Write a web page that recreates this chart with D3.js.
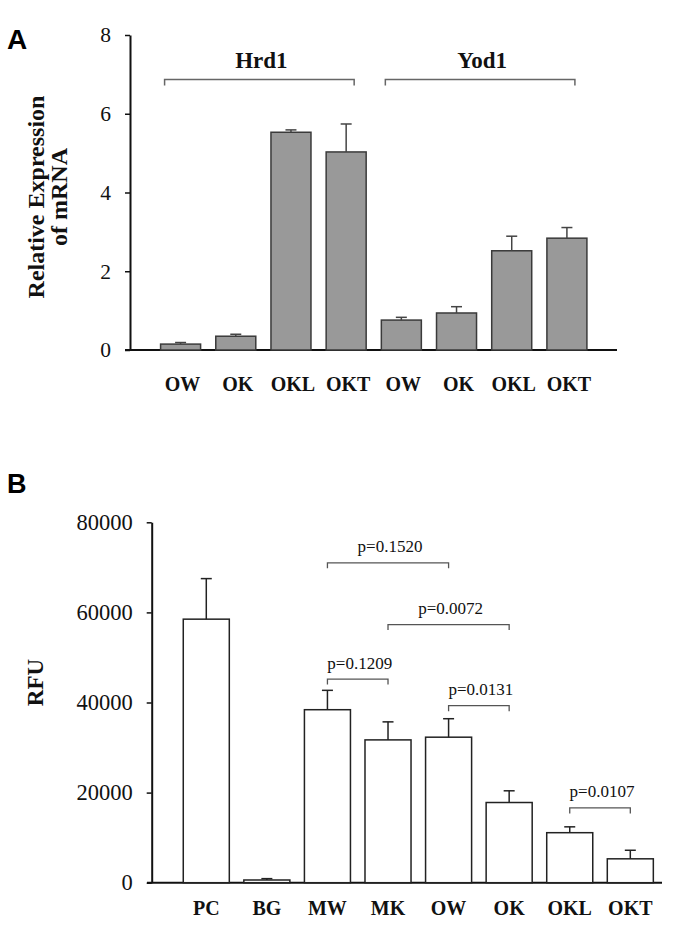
<!DOCTYPE html>
<html>
<head>
<meta charset="utf-8">
<script src="https://cdn.jsdelivr.net/npm/d3@7"></script>
<style>
  html, body { margin: 0; padding: 0; background: #fff; }
  svg { display: block; }
</style>
</head>
<body>
<svg id="chart" width="699" height="931"></svg>
<script>
// ---------- Panel A data ----------
const labelsA = ["OW", "OK", "OKL", "OKT", "OW", "OK", "OKL", "OKT"];
const valuesA = [0.15, 0.35, 5.53, 5.03, 0.76, 0.94, 2.52, 2.84];
const errorsA = [0.04, 0.05, 0.06, 0.71, 0.07, 0.16, 0.37, 0.27];
const groupsA = ["Hrd1", "Yod1"];
const groupStartA = [0, 4];
const groupEndA = [3, 7];
const ticksA = [0, 2, 4, 6, 8];

// ---------- Panel B data ----------
const labelsB = ["PC", "BG", "MW", "MK", "OW", "OK", "OKL", "OKT"];
const valuesB = [58500, 600, 38400, 31700, 32300, 17800, 11100, 5300];
const errorsB = [9000, 300, 4300, 4000, 4100, 2600, 1300, 1900];
const ticksB = [0, 20000, 40000, 60000, 80000];
const pLabels = ["p=0.1520", "p=0.0072", "p=0.1209", "p=0.0131", "p=0.0107"];
const pFrom = ["MW", "MK", "MW", "OW", "OKL"];
const pTo = ["OW", "OK", "MK", "OK", "OKT"];
const pLevel = [71000, 57300, 45200, 39300, 16600];

const svg = d3.select("#chart");
const serif = '"Liberation Serif", "Times New Roman", serif';
const sans = '"Liberation Sans", Arial, sans-serif';

// =============== PANEL A ===============
{
  const y = d3.scaleLinear().domain([0, 8]).range([350, 35]);
  const x = d3.scaleBand().domain(d3.range(labelsA.length))
    .range([153, 594.5]).paddingInner(0.275).paddingOuter(0.1375);
  const bw = x.bandwidth();
  const g = svg.append("g");

  svg.append("text").attr("x", 7).attr("y", 49).attr("font-family", sans)
    .attr("font-weight", "bold").attr("font-size", 28).text("A");

  const ax = g.append("g").attr("transform", "translate(130,0)")
    .call(d3.axisLeft(y).tickValues(ticksA).tickSize(5).tickSizeOuter(0).tickPadding(14));
  ax.select(".domain").attr("stroke", "#111").attr("stroke-width", 2);
  ax.selectAll(".tick line").attr("stroke", "#111").attr("stroke-width", 1.5);
  ax.selectAll(".tick text").attr("font-family", serif).attr("font-size", 21.5).attr("fill", "#111");

  g.append("line").attr("x1", 125).attr("x2", 617).attr("y1", y(0)).attr("y2", y(0))
    .attr("stroke", "#111").attr("stroke-width", 2);

  g.selectAll("rect.bar").data(valuesA).join("rect").attr("class", "bar")
    .attr("x", (d, i) => x(i)).attr("width", bw)
    .attr("y", d => y(d)).attr("height", d => y(0) - y(d))
    .attr("fill", "#999999").attr("stroke", "#3a3a3a").attr("stroke-width", 1.5);

  g.selectAll("line.err").data(valuesA).join("line").attr("class", "err")
    .attr("x1", (d, i) => x(i) + bw / 2).attr("x2", (d, i) => x(i) + bw / 2)
    .attr("y1", d => y(d)).attr("y2", (d, i) => y(d + errorsA[i]))
    .attr("stroke", "#444").attr("stroke-width", 1.5);
  g.selectAll("line.cap").data(valuesA).join("line").attr("class", "cap")
    .attr("x1", (d, i) => x(i) + bw / 2 - 5.5).attr("x2", (d, i) => x(i) + bw / 2 + 5.5)
    .attr("y1", (d, i) => y(d + errorsA[i])).attr("y2", (d, i) => y(d + errorsA[i]))
    .attr("stroke", "#444").attr("stroke-width", 1.5);

  g.selectAll("text.xl").data(labelsA).join("text").attr("class", "xl")
    .attr("x", (d, i) => x(i) + bw / 2 + 2).attr("y", y(0) + 40.7)
    .attr("text-anchor", "middle").attr("font-family", serif)
    .attr("font-weight", "bold").attr("font-size", 20).attr("fill", "#111").text(d => d);

  const by = y(6.87);
  groupsA.forEach((name, k) => {
    const x1 = x(groupStartA[k]) + bw * 0.1;
    const x2 = x(groupEndA[k]) + bw * 0.7;
    g.append("path")
      .attr("d", `M${x1},${by + 6}V${by}H${x2}V${by + 6}`)
      .attr("fill", "none").attr("stroke", "#666").attr("stroke-width", 1.5);
    g.append("text").attr("x", (x1 + x2) / 2 + 2).attr("y", by - 11.6)
      .attr("text-anchor", "middle").attr("font-family", serif)
      .attr("font-weight", "bold").attr("font-size", 23).attr("fill", "#111").text(name);
  });

  const yl = g.append("text").attr("transform", "translate(44,197) rotate(-90)")
    .attr("text-anchor", "middle").attr("font-family", serif)
    .attr("font-weight", "bold").attr("font-size", 24).attr("fill", "#111");
  yl.append("tspan").attr("x", 0).attr("y", 0).text("Relative Expression");
  yl.append("tspan").attr("x", 0).attr("y", 23).text("of mRNA");
}

// =============== PANEL B ===============
{
  const y = d3.scaleLinear().domain([0, 80000]).range([882.7, 522.3]);
  const x = d3.scaleBand().domain(labelsB)
    .range([176, 660.6]).paddingInner(0.24).paddingOuter(0.12);
  const bw = x.bandwidth();
  const g = svg.append("g");

  svg.append("text").attr("x", 7).attr("y", 493).attr("font-family", sans)
    .attr("font-weight", "bold").attr("font-size", 27).text("B");

  const ax = g.append("g").attr("transform", "translate(151.7,0)")
    .call(d3.axisLeft(y).tickValues(ticksB).tickFormat(d3.format("d"))
      .tickSize(5).tickSizeOuter(0).tickPadding(14));
  ax.select(".domain").attr("stroke", "#111").attr("stroke-width", 2);
  ax.selectAll(".tick line").attr("stroke", "#111").attr("stroke-width", 1.5);
  ax.selectAll(".tick text").attr("font-family", serif).attr("font-size", 22.5).attr("fill", "#111");

  g.append("line").attr("x1", 147).attr("x2", 662).attr("y1", y(0)).attr("y2", y(0))
    .attr("stroke", "#111").attr("stroke-width", 2);

  g.selectAll("rect.bar").data(valuesB).join("rect").attr("class", "bar")
    .attr("x", (d, i) => x(labelsB[i])).attr("width", bw)
    .attr("y", d => y(d)).attr("height", d => y(0) - y(d))
    .attr("fill", "#fff").attr("stroke", "#222").attr("stroke-width", 1.5);

  g.selectAll("line.err").data(valuesB).join("line").attr("class", "err")
    .attr("x1", (d, i) => x(labelsB[i]) + bw / 2).attr("x2", (d, i) => x(labelsB[i]) + bw / 2)
    .attr("y1", d => y(d)).attr("y2", (d, i) => y(d + errorsB[i]))
    .attr("stroke", "#222").attr("stroke-width", 1.5);
  g.selectAll("line.cap").data(valuesB).join("line").attr("class", "cap")
    .attr("x1", (d, i) => x(labelsB[i]) + bw / 2 - 5.5).attr("x2", (d, i) => x(labelsB[i]) + bw / 2 + 5.5)
    .attr("y1", (d, i) => y(d + errorsB[i])).attr("y2", (d, i) => y(d + errorsB[i]))
    .attr("stroke", "#222").attr("stroke-width", 1.5);

  g.selectAll("text.xl").data(labelsB).join("text").attr("class", "xl")
    .attr("x", d => x(d) + bw / 2).attr("y", y(0) + 32.3)
    .attr("text-anchor", "middle").attr("font-family", serif)
    .attr("font-weight", "bold").attr("font-size", 20).attr("fill", "#111").text(d => d);

  pLabels.forEach((lab, k) => {
    const x1 = x(pFrom[k]) + bw / 2;
    const x2 = x(pTo[k]) + bw / 2;
    const by = y(pLevel[k]);
    g.append("path").attr("d", `M${x1},${by + 5.5}V${by}H${x2}V${by + 5.5}`)
      .attr("fill", "none").attr("stroke", "#555").attr("stroke-width", 1.3);
    g.append("text").attr("x", (x1 + x2) / 2 + 2).attr("y", by - 10.5)
      .attr("text-anchor", "middle").attr("font-family", serif)
      .attr("font-size", 17).attr("fill", "#111").text(lab);
  });

  g.append("text").attr("transform", "translate(43,682.5) rotate(-90)")
    .attr("text-anchor", "middle").attr("font-family", serif)
    .attr("font-weight", "bold").attr("font-size", 23).attr("fill", "#111").text("RFU");
}
</script>
</body>
</html>
